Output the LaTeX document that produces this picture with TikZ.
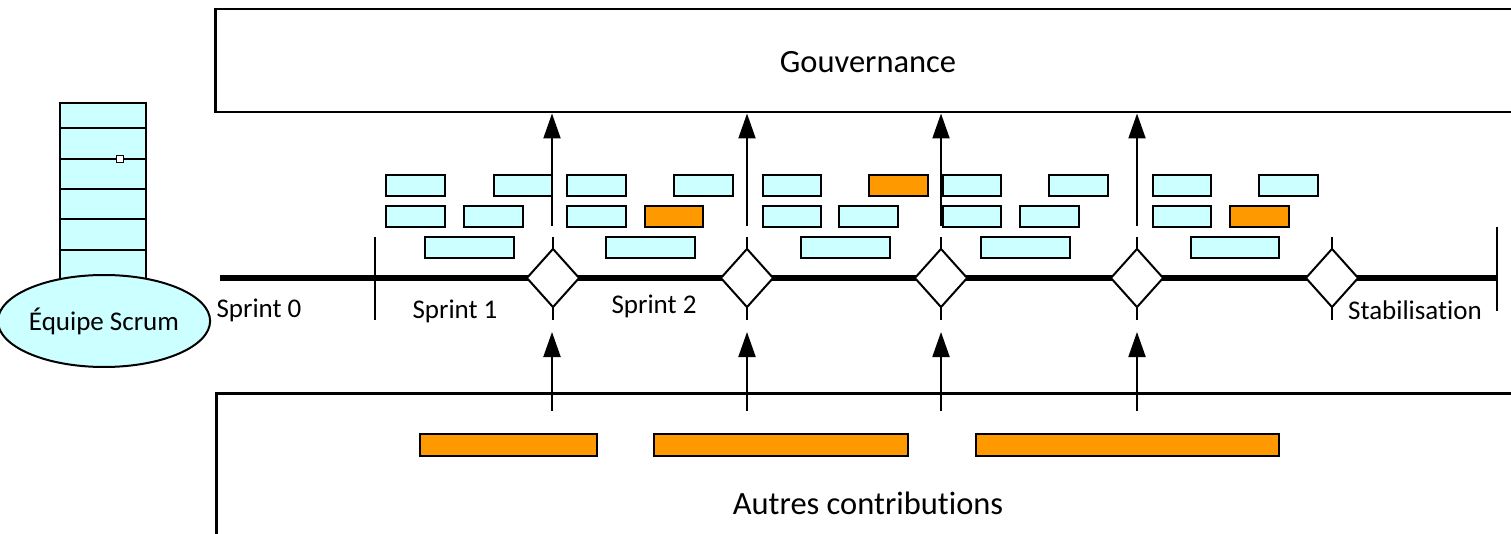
\documentclass[tikz,border=0pt]{standalone}
\usepackage{fontspec}
\setmainfont{Carlito}[Ligatures={NoCommon}]
\usetikzlibrary{shapes.geometric,arrows.meta}
\definecolor{lcyan}{HTML}{CCFFFF}
\definecolor{orng}{HTML}{FF9900}
\begin{document}
\begin{tikzpicture}[x=1pt,y=-1pt,
  big/.style={font=\fontsize{32.5}{39}\selectfont},
  small/.style={font=\fontsize{27}{32}\selectfont},
  bbox/.style={draw, line width=1.8pt, fill=lcyan, minimum height=21pt, inner sep=0pt, anchor=north west},
  obox/.style={bbox, fill=orng},
  tickline/.style={line width=1.8pt},
  arr/.style={line width=2pt, -{Triangle[length=25pt,width=17pt]}},
  dia/.style={diamond, draw, fill=white, line width=2pt, minimum width=53pt, minimum height=59pt, inner sep=0pt},
  frame/.style={draw, line width=2.5pt, inner sep=0pt, anchor=north west}]
\clip (0,0) rectangle (1511,534);
\fill[white] (0,0) rectangle (1511,534);

% Governance and other contributions boxes
\node[frame, minimum width=1330pt, minimum height=103pt] (gov) at (214,8) {};
\node[big] (govt) at (868,62) {Gouvernance};
\node[frame, minimum width=1330pt, minimum height=220pt] (contrib) at (215,392) {};
\node[big] (contribt) at (868,503) {Autres contributions};

% Team stack
\node[draw, fill=lcyan, line width=2pt, minimum width=86pt, minimum height=190pt, anchor=north west, inner sep=0pt] (stack) at (59,102) {};
\foreach \y in {128,159,189,219,250} { \draw[line width=2pt] (59,\y) -- (145,\y); }
\node[draw, fill=white, line width=1.5pt, minimum size=7pt, inner sep=0pt] (sq) at (120,159) {};
\node[ellipse, draw, fill=lcyan, line width=2pt, minimum width=191pt, minimum height=92pt, inner sep=0pt, small] (team) at (104,321) {Équipe Scrum};

% Timeline
\coordinate (tl0) at (220,278);
\coordinate (tl1) at (1497,278);
\draw[line width=5.5pt] (tl0) -- (tl1);
\draw[tickline] (375,237) -- (375,320);
\draw[tickline] (1497,227) -- (1497,311);
\foreach \x [count=\i] in {553,747,941,1137,1332} {
  \draw[tickline] (\x,237) -- (\x,320);
  \node[dia] (d\i) at (\x,278) {};
}

% Labels
\node[small] (s0) at (259,310) {Sprint 0};
\node[small] (s1) at (455,311) {Sprint 1};
\node[small] (s2) at (654,306) {Sprint 2};
\node[small] (stab) at (1415,310) {Stabilisation};

% Backlog items
\foreach \a/\b [count=\i] in {385/444,493/551,566/625,673/732,762/820,942/1000,1048/1107,1152/1210,1258/1317}
  { \node[bbox, minimum width={(\b-\a)*1pt}] (ra\i) at (\a,174) {}; }
\node[obox, minimum width=59pt] (rao) at (868,174) {};
\foreach \a/\b [count=\i] in {385/444,463/522,566/625,762/820,838/897,942/1000,1019/1078,1152/1210}
  { \node[bbox, minimum width={(\b-\a)*1pt}] (rb\i) at (\a,205) {}; }
\node[obox, minimum width=58pt] (rbo1) at (644,205) {};
\node[obox, minimum width=59pt] (rbo2) at (1229,205) {};
\foreach \a/\b [count=\i] in {424/513,605/694,800/889,980/1069,1190/1278}
  { \node[bbox, minimum width={(\b-\a)*1pt}] (rc\i) at (\a,236) {}; }

% Other contributions bars
\foreach \a/\b [count=\i] in {419/596,653/907,975/1278}
  { \node[obox, minimum width={(\b-\a)*1pt}, minimum height=22pt] (oc\i) at (\a,433) {}; }

% Arrows
\foreach \x [count=\i] in {552,747,941,1137} {
  \coordinate (ua\i) at (\x,226);
  \draw[arr] (ua\i) -- (ua\i |- gov.south);
  \coordinate (la\i) at (\x,411);
  \coordinate (lt\i) at (\x,332);
  \draw[arr] (la\i) -- (lt\i);
}
\end{tikzpicture}
\end{document}
